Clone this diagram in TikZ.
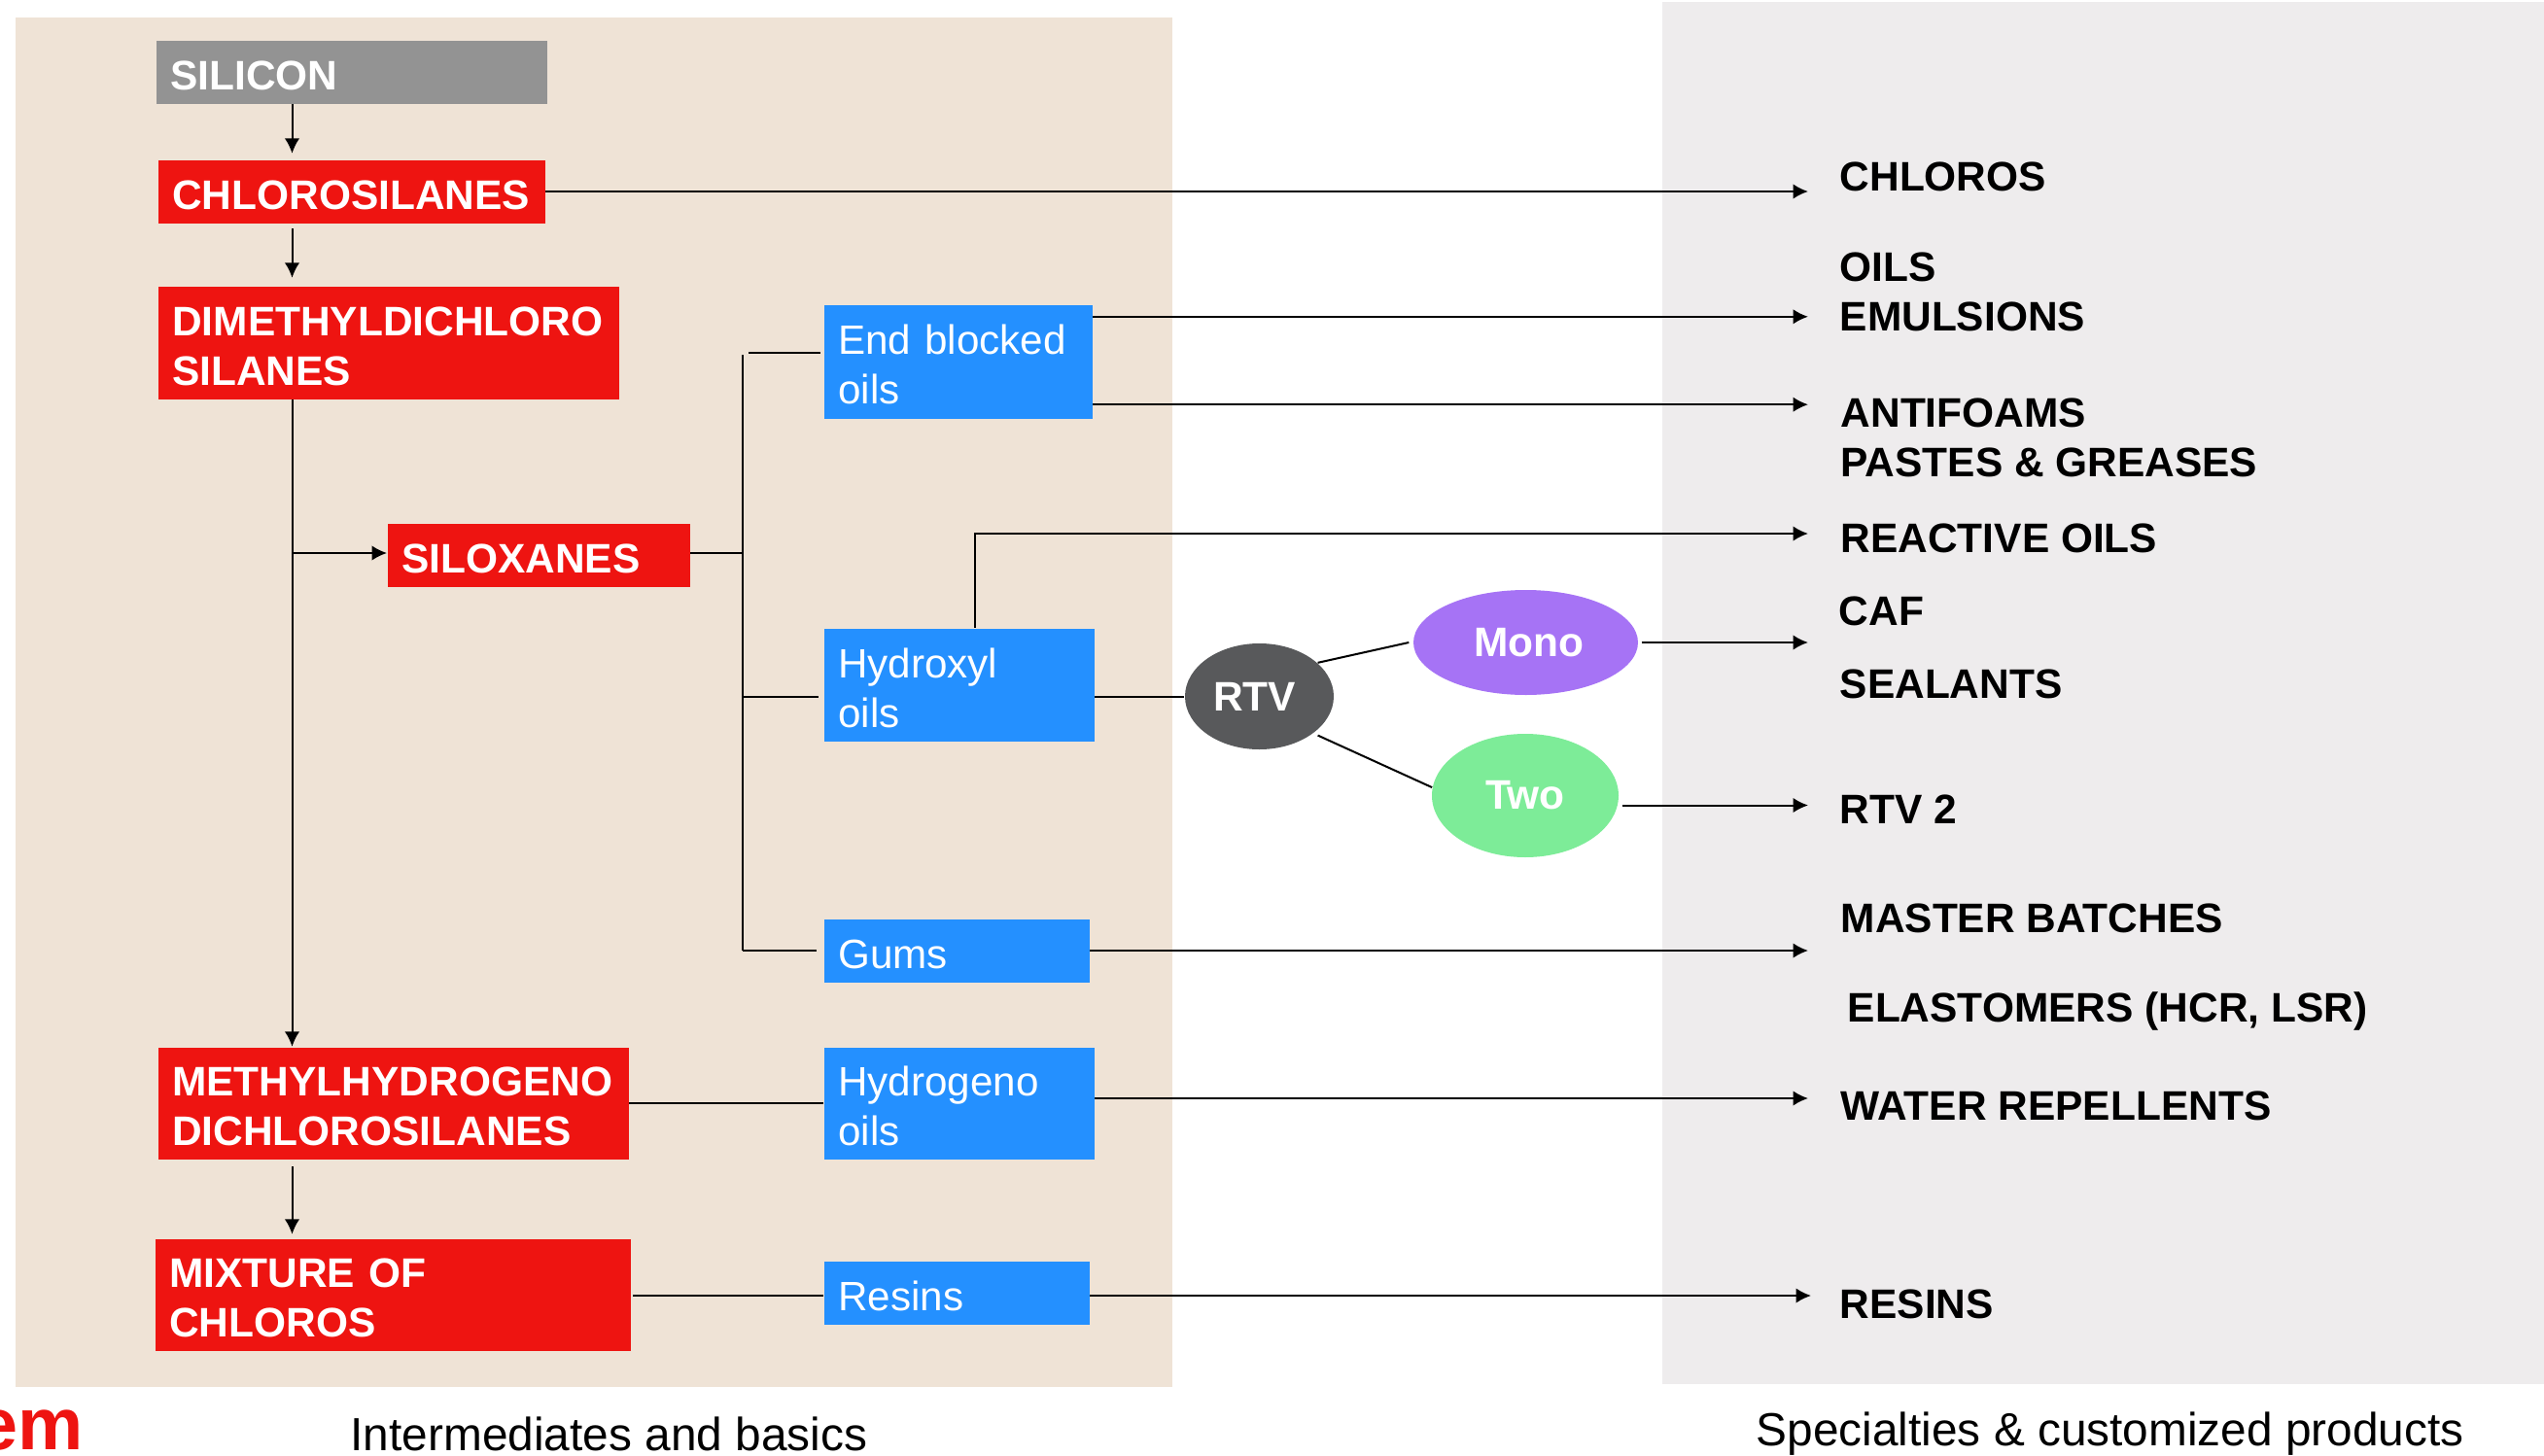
\documentclass[tikz,border=0pt]{standalone}
\usepackage{fontspec}
\setmainfont{Liberation Sans}
\usetikzlibrary{arrows.meta, shapes.geometric}
\definecolor{basepanel}{HTML}{EFE3D6}
\definecolor{specpanel}{HTML}{EEECED}
\definecolor{siliconc}{HTML}{939393}
\definecolor{silanec}{HTML}{EE1411}
\definecolor{oilc}{HTML}{2490FF}
\definecolor{rtvc}{HTML}{58595B}
\definecolor{monoc}{HTML}{A673F5}
\definecolor{twoc}{HTML}{7DEC98}
\newcommand{\boldtxt}{\fontsize{12.08}{14.5}\selectfont\bfseries}
\tikzset{
    box/.style={font=\fontsize{12}{14.5}\selectfont, anchor=north west, align=left, text=white, inner xsep=.145cm, inner ysep=0pt, xshift=-.01cm, yshift=.012cm, execute at begin node={\rule{0pt}{10.4pt}}},
    silane/.style={box, fill=silanec, font=\boldtxt},
    oil/.style={box, fill=oilc},
    blob/.style={ellipse, inner sep=0pt, text=white, font=\boldtxt},
    prod/.style={anchor=west, inner sep=0pt, font=\boldtxt, align=left},
    caption/.style={font=\fontsize{13.6}{16}\selectfont, anchor=west, inner sep=0pt},
    line/.style={line width=.02cm},
}
\begin{document}
\begin{tikzpicture}[>={Latex[length=1.55mm,width=1.55mm]}]
    \useasboundingbox (0,0) rectangle (26.17,-14.98);
    \fill[basepanel] (0.16,-0.18) rectangle (12.06,-14.27);
    \fill[specpanel] (17.10,-0.02) rectangle (26.17,-14.24);

    \node[box, fill=siliconc, font=\boldtxt, text width=3.73cm, minimum height=.65cm] (silicon) at (1.61,-0.42) {SILICON};
    \node[silane, text width=3.69cm, minimum height=.65cm] (chlorosilanes) at (1.63,-1.65) {CHLOROSILANES};
    \node[silane, text width=4.45cm, minimum height=1.16cm] (dimethyl) at (1.63,-2.95) {DIMETHYLDICHLORO\\SILANES};
    \node[silane, text width=2.82cm, minimum height=.65cm] (siloxanes) at (3.99,-5.39) {SILOXANES};
    \node[silane, text width=4.55cm, minimum height=1.15cm] (methylhydro) at (1.63,-10.78) {METHYLHYDROGENO\\DICHLOROSILANES};
    \node[silane, text width=4.60cm, minimum height=1.15cm] (mixture) at (1.60,-12.75) {MIXTURE OF\\CHLOROS};

    \node[oil, text width=2.47cm, minimum height=1.17cm] (endblocked) at (8.48,-3.14) {End blocked\\oils};
    \node[oil, text width=2.49cm, minimum height=1.16cm] (hydroxyl) at (8.48,-6.47) {Hydroxyl\\oils};
    \node[oil, text width=2.44cm, minimum height=.65cm] (gums) at (8.48,-9.46) {Gums};
    \node[oil, text width=2.49cm, minimum height=1.15cm] (hydrogeno) at (8.48,-10.78) {Hydrogeno\\oils};
    \node[oil, text width=2.44cm, minimum height=.65cm] (resins) at (8.48,-12.98) {Resins};

    \node[blob, fill=rtvc, minimum width=1.53cm, minimum height=1.09cm] (rtv) at (12.955,-7.165) {\hspace*{-.1cm}RTV};
    \node[blob, fill=monoc, minimum width=2.31cm, minimum height=1.08cm] (mono) at (15.695,-6.61) {\hspace*{.07cm}Mono};
    \node[blob, fill=twoc, minimum width=1.92cm, minimum height=1.27cm] (two) at (15.69,-8.185) {Two};

    \node[prod] (pchloros) at (18.92,-1.82) {CHLOROS};
    \node[prod] (poils) at (18.92,-3.00) {OILS\\EMULSIONS};
    \node[prod] (pantifoams) at (18.93,-4.50) {ANTIFOAMS\\PASTES \& GREASES};
    \node[prod] (preactive) at (18.93,-5.54) {REACTIVE OILS};
    \node[prod] (pcaf) at (18.91,-6.29) {CAF};
    \node[prod] (psealants) at (18.92,-7.04) {SEALANTS};
    \node[prod] (prtvtwo) at (18.92,-8.33) {RTV 2};
    \node[prod] (pmaster) at (18.93,-9.45) {MASTER BATCHES};
    \node[prod] (pelastomers) at (19.00,-10.41) {ELASTOMERS (HCR, LSR)};
    \node[prod] (pwater) at (18.93,-11.38) {WATER REPELLENTS};
    \node[prod] (presins) at (18.92,-13.42) {RESINS};

    \node[anchor=east, inner sep=0pt, text=silanec, font=\fontsize{21.5}{25}\selectfont\bfseries] (logo) at (0.86,-14.72) {em};
    \node[caption] (capbasics) at (3.60,-14.75) {Intermediates and basics};
    \node[caption] (capspecial) at (18.06,-14.75) {Specialties \& customized products};

    \coordinate (spine) at (3.005,-5.69);
    \coordinate (bus) at (7.64,-3.65);
    \coordinate (busarm) at (7.70,-3.63);
    \coordinate (tips) at (18.60,-1.98);
    \coordinate (reactive) at (10.03,-5.49);
    \coordinate (resinline) at (6.51,-13.33);

    \draw[line, ->, shorten >=.06cm] (spine |- silicon.south) -- (spine |- chlorosilanes.north);
    \draw[line, ->, shorten <=.05cm, shorten >=.08cm] (spine |- chlorosilanes.south) -- (spine |- dimethyl.north);
    \draw[line, ->] (spine |- dimethyl.south) -- (spine |- methylhydro.north);
    \draw[line, ->] (spine) -- (siloxanes.west |- spine);
    \draw[line, ->, shorten <=.07cm, shorten >=.04cm] (spine |- methylhydro.south) -- (spine |- mixture.north);

    \draw[line] (siloxanes.east |- spine) -- (bus |- spine);
    \draw[line] (bus) -- (bus |- gums.west);
    \draw[line] (busarm) -- ([xshift=-.03cm]busarm -| endblocked.west);
    \draw[line] (bus |- rtv.west) -- ([xshift=-.05cm]rtv.west -| hydroxyl.west);
    \draw[line] (bus |- gums.west) -- ([xshift=-.07cm]gums.west);
    \draw[line] (methylhydro.east) -- (methylhydro.east -| hydrogeno.west);
    \draw[line] (resinline) -- (resinline -| resins.west);

    \draw[line] (rtv.west -| hydroxyl.east) -- (rtv.west);
    \draw[line] (rtv.30) -- ([xshift=-.04cm]mono.west);
    \draw[line] ([xshift=.03cm,yshift=-.03cm]rtv.-33) -- (two.175);

    \draw[line, ->] (chlorosilanes.east) -- (chlorosilanes.east -| tips);
    \draw[line, ->] ([yshift=-.13cm]endblocked.north east) -- ([yshift=-.13cm]endblocked.north east -| tips);
    \draw[line, ->] ([yshift=.15cm]endblocked.south east) -- ([yshift=.15cm]endblocked.south east -| tips);
    \draw[line, ->] (reactive |- hydroxyl.north) -- (reactive) -- (reactive -| tips);
    \draw[line, ->, shorten <=.03cm] (mono.east) -- (mono.east -| tips);
    \draw[line, ->, shorten <=.03cm] ([yshift=-.1cm]two.east) -- ([yshift=-.1cm]two.east -| tips);
    \draw[line, ->] (gums.east) -- (gums.east -| tips);
    \draw[line, ->] ([yshift=.05cm]hydrogeno.east) -- ([yshift=.05cm]hydrogeno.east -| tips);
    \draw[line, ->] (resinline -| resins.east) -- ([xshift=.03cm]resinline -| tips);
\end{tikzpicture}
\end{document}
